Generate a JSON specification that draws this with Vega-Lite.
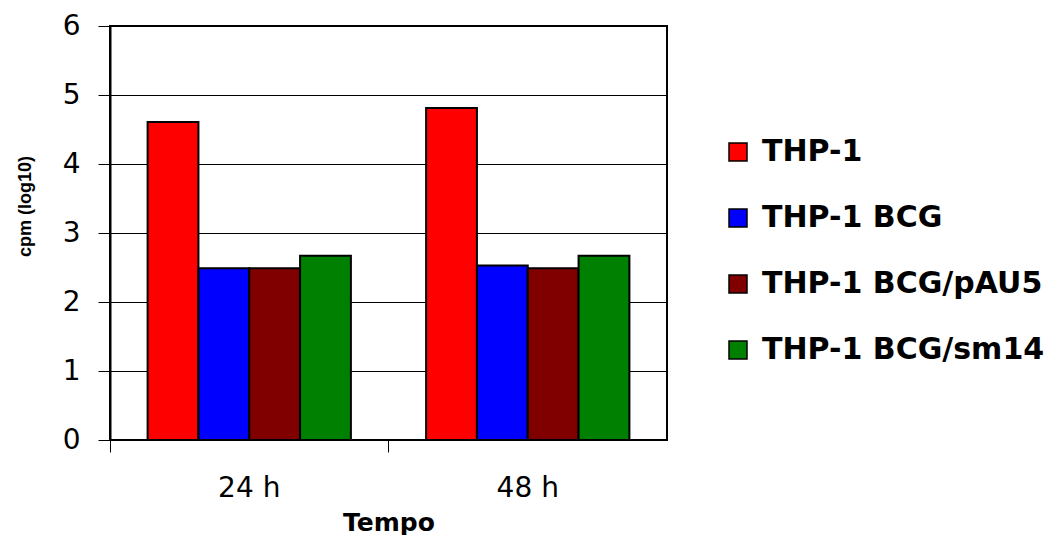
{
  "$schema": "https://vega.github.io/schema/vega-lite/v6.json",
  "width": 557,
  "height": 414,
  "autosize": "none",
  "padding": {"left": 110, "top": 26, "right": 385, "bottom": 95},
  "background": "white",
  "config": {
    "view": {"stroke": "black", "strokeWidth": 2},
    "font": "Liberation Sans"
  },
  "data": {
    "values": [
      {"tempo": "24 h", "grupo": "THP-1", "cpm": 4.61},
      {"tempo": "24 h", "grupo": "THP-1 BCG", "cpm": 2.49},
      {"tempo": "24 h", "grupo": "THP-1 BCG/pAU5", "cpm": 2.49},
      {"tempo": "24 h", "grupo": "THP-1 BCG/sm14", "cpm": 2.67},
      {"tempo": "48 h", "grupo": "THP-1", "cpm": 4.81},
      {"tempo": "48 h", "grupo": "THP-1 BCG", "cpm": 2.53},
      {"tempo": "48 h", "grupo": "THP-1 BCG/pAU5", "cpm": 2.49},
      {"tempo": "48 h", "grupo": "THP-1 BCG/sm14", "cpm": 2.67}
    ]
  },
  "mark": {"type": "bar", "stroke": "black", "strokeWidth": 2},
  "encoding": {
    "x": {
      "field": "tempo",
      "type": "nominal",
      "scale": {"paddingInner": 0, "paddingOuter": 0},
      "axis": {
        "title": "Tempo",
        "labelAngle": 0,
        "bandPosition": 0,
        "ticks": true,
        "tickSize": 12,
        "tickColor": "black",
        "tickWidth": 1,
        "domain": false,
        "grid": false,
        "labelFont": "DejaVu Sans",
        "labelFontSize": 28,
        "labelColor": "black",
        "labelPadding": 22,
        "titleFont": "DejaVu Sans",
        "titleFontWeight": "bold",
        "titleFontSize": 25,
        "titleColor": "black",
        "titlePadding": 8
      }
    },
    "xOffset": {
      "field": "grupo",
      "type": "nominal",
      "sort": ["THP-1", "THP-1 BCG", "THP-1 BCG/pAU5", "THP-1 BCG/sm14"],
      "scale": {"paddingInner": 0, "paddingOuter": 0.74}
    },
    "y": {
      "field": "cpm",
      "type": "quantitative",
      "scale": {"domain": [0, 6], "nice": false},
      "axis": {
        "title": "cpm (log10)",
        "values": [0, 1, 2, 3, 4, 5, 6],
        "grid": true,
        "gridColor": "black",
        "gridOpacity": 1,
        "gridWidth": 1,
        "tickSize": 12,
        "tickColor": "black",
        "tickWidth": 1,
        "domainColor": "black",
        "domainWidth": 2,
        "labelFont": "DejaVu Sans",
        "labelFontSize": 28,
        "labelColor": "black",
        "labelPadding": 18,
        "titleFont": "Liberation Sans",
        "titleFontWeight": "bold",
        "titleFontSize": 18,
        "titleColor": "black",
        "titlePadding": 28,
        "titleY": 180
      }
    },
    "color": {
      "field": "grupo",
      "type": "nominal",
      "scale": {
        "domain": ["THP-1", "THP-1 BCG", "THP-1 BCG/pAU5", "THP-1 BCG/sm14"],
        "range": ["#FF0000", "#0000FF", "#800000", "#008000"]
      },
      "legend": {
        "title": null,
        "orient": "none",
        "legendX": 613,
        "legendY": 111,
        "symbolType": "square",
        "symbolSize": 324,
        "symbolStrokeColor": "black",
        "symbolStrokeWidth": 1.5,
        "symbolOpacity": 1,
        "labelFont": "DejaVu Sans",
        "labelFontWeight": "bold",
        "labelFontSize": 30,
        "labelColor": "black",
        "labelOffset": 9,
        "rowPadding": 36,
        "labelLimit": 400
      }
    }
  }
}
